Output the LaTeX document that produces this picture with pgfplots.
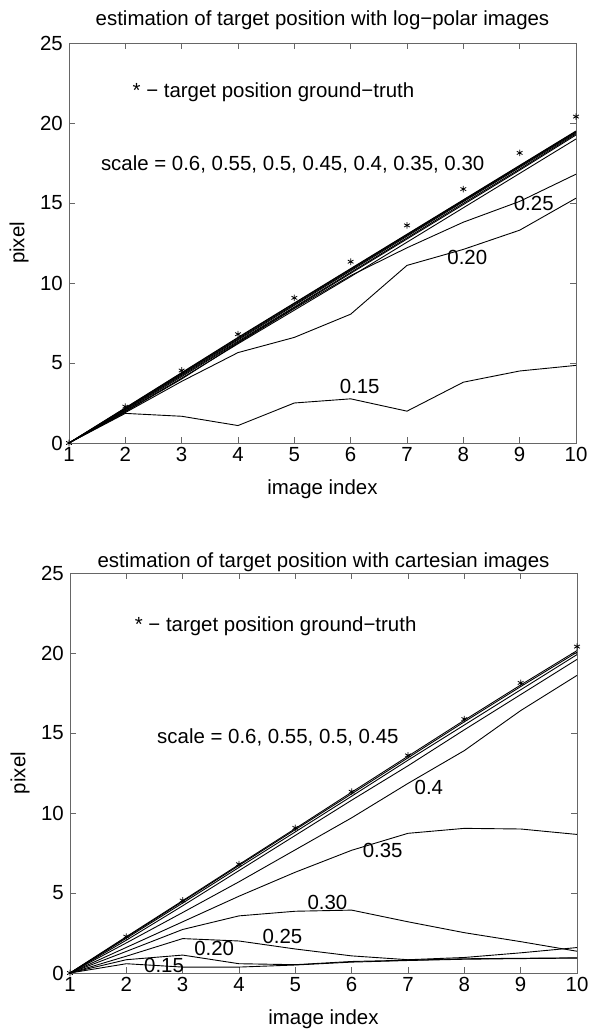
\documentclass[border=0pt]{standalone}
\usepackage{fontspec}
\setmainfont{Liberation Sans}
\usepackage{pgfplots}
\usepackage{pgfplotstable}
\pgfplotsset{compat=1.18}

% estimated position (pixel) per image index, one column per scale
\pgfplotstableread{
idx truth  s060  s055  s050  s045  s040  s035  s030  s025  s020  s015
1   0      0     0     0     0     0     0     0     0     0     0
2   2.27   2.20  2.18  2.15  2.12  2.08  2.03  1.98  1.95  1.90  1.85
3   4.53   4.40  4.37  4.33  4.28  4.22  4.15  4.05  4.00  3.85  1.67
4   6.80   6.60  6.56  6.50  6.44  6.36  6.30  6.20  6.25  5.65  1.09
5   9.07   8.75  8.72  8.66  8.60  8.50  8.45  8.30  8.40  6.60  2.50
6   11.33  10.90 10.87 10.82 10.76 10.66 10.60 10.40 10.46 8.05  2.76
7   13.60  13.05 13.02 12.98 12.92 12.82 12.75 12.55 12.20 11.10 1.99
8   15.87  15.20 15.17 15.13 15.08 14.98 14.90 14.70 13.80 12.10 3.80
9   18.13  17.35 17.32 17.28 17.22 17.12 17.05 16.85 15.10 13.30 4.50
10  20.40  19.50 19.47 19.43 19.38 19.32 19.25 19.00 16.80 15.30 4.85
}\logpolar

\pgfplotstableread{
idx truth  s060  s055  s050  s045  s040  s035  s030  s025  s020  s015
1   0      0     0     0     0     0     0     0     0     0     0
2   2.27   2.27  2.23  2.17  2.05  1.88  1.60  1.35  1.05  0.83  0.58
3   4.53   4.52  4.47  4.37  4.20  3.78  3.20  2.72  2.15  1.12  0.37
4   6.80   6.78  6.72  6.60  6.40  5.70  4.80  3.57  2.00  0.58  0.37
5   9.07   9.03  8.96  8.82  8.60  7.70  6.30  3.86  1.50  0.52  0.50
6   11.33  11.30 11.20 11.05 10.80 9.70  7.67  3.93  1.07  0.72  0.68
7   13.60  13.55 13.45 13.30 12.95 11.85 8.73  3.20  0.83  0.80  0.78
8   15.87  15.80 15.70 15.50 15.20 13.90 9.04  2.52  0.97  0.89  0.86
9   18.13  18.00 17.90 17.70 17.40 16.40 9.00  1.96  1.26  0.92  0.90
10  20.40  20.15 20.05 19.90 19.60 18.60 8.66  1.36  1.59  0.95  0.93
}\cartesian

\newcommand{\lbl}{\fontsize{20.5}{23}\selectfont}

\pgfplotsset{
  trackaxis/.style={
    scale only axis,
    width=507bp, height=400bp,
    xmin=1, xmax=10, ymin=0, ymax=25,
    xtick={1,...,10}, ytick={0,5,...,25},
    tick align=inside,
    major tick length=6bp,
    axis line style={black!60, line width=0.8bp},
    every tick/.style={black!60, line width=0.8bp},
    tick label style={font=\lbl, inner sep=0pt},
    /pgf/number format/assume math mode=true,
    xticklabel style={anchor=north, yshift=-4bp},
    yticklabel style={anchor=east, xshift=-6bp},
    every axis title/.style={at={(axis description cs:0.5,1)}, anchor=base, yshift=5bp, font=\lbl},
    every axis x label/.style={at={(axis description cs:0.5,0)}, anchor=center, yshift=-46bp, font=\lbl},
    every axis y label/.style={at={(axis description cs:0,0.5)}, xshift=-50bp, anchor=center, rotate=90, font=\lbl},
    xlabel={image index}, ylabel={pixel},
    clip=false,
  },
  est/.style={black, solid, line width=0.9bp, mark=none},
  truthmarks/.style={black, only marks, mark=asterisk, mark size=3.3bp, line width=0.8bp},
}

\begin{document}
\begin{tikzpicture}
\path[use as bounding box] (0bp,0bp) rectangle (600bp,1031bp);

% log-polar images
\begin{axis}[trackaxis, at={(69bp,588bp)}, anchor=south west,
  title style={yshift=12bp},
  title={estimation of target position with log−polar images}]
  \pgfplotsinvokeforeach{s060,s055,s050,s045,s040,s035,s030,s025,s020,s015}{
    \addplot[est] table[x=idx, y=#1] {\logpolar};
  }
  \addplot[truthmarks] table[x=idx, y=truth] {\logpolar};
  \node[font=\lbl, inner sep=0pt] at (axis cs:4.63,21.9) {* − target position ground−truth};
  \node[font=\lbl, inner sep=0pt] at (axis cs:4.97,17.4) {scale = 0.6, 0.55, 0.5, 0.45, 0.4, 0.35, 0.30};
  \node[font=\lbl, inner sep=0pt] at (axis cs:9.25,15.0) {0.25};
  \node[font=\lbl, inner sep=0pt] at (axis cs:8.07,11.6) {0.20};
  \node[font=\lbl, inner sep=0pt] at (axis cs:6.16,3.55) {0.15};
\end{axis}

% cartesian images
\begin{axis}[trackaxis, at={(70bp,58bp)}, anchor=south west,
  title={estimation of target position with cartesian images}]
  \pgfplotsinvokeforeach{s060,s055,s050,s045,s040,s035,s030,s025,s020,s015}{
    \addplot[est] table[x=idx, y=#1] {\cartesian};
  }
  \addplot[truthmarks] table[x=idx, y=truth] {\cartesian};
  \node[font=\lbl, inner sep=0pt] at (axis cs:4.65,21.7) {* − target position ground−truth};
  \node[font=\lbl, inner sep=0pt] at (axis cs:4.69,14.75) {scale = 0.6, 0.55, 0.5, 0.45};
  \node[font=\lbl, inner sep=0pt] at (axis cs:7.37,11.6) {0.4};
  \node[font=\lbl, inner sep=0pt] at (axis cs:6.55,7.67) {0.35};
  \node[font=\lbl, inner sep=0pt] at (axis cs:5.57,4.4) {0.30};
  \node[font=\lbl, inner sep=0pt] at (axis cs:4.77,2.28) {0.25};
  \node[font=\lbl, inner sep=0pt] at (axis cs:3.56,1.54) {0.20};
  \node[font=\lbl, inner sep=0pt] at (axis cs:2.67,0.49) {0.15};
\end{axis}
\end{tikzpicture}
\end{document}
